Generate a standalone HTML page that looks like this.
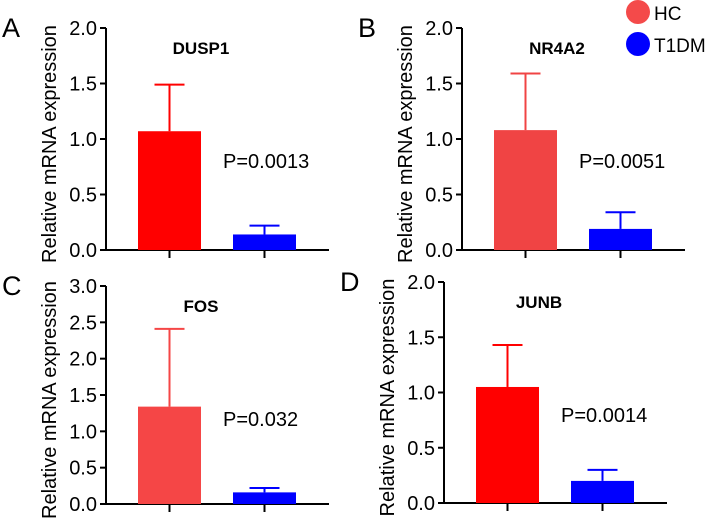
<!DOCTYPE html>
<html><head><meta charset="utf-8"><style>body{margin:0;background:#fff}svg{display:block;font-family:"Liberation Sans",Arial,sans-serif}</style></head>
<body>
<svg id="c" width="708" height="521">
<g>
<circle cx="638" cy="12" r="12" fill="#f44a4a"/>
<text x="654" y="20" font-size="19" fill="#000">HC</text>
<circle cx="638" cy="44" r="12" fill="#0000ff"/>
<text x="654" y="52" font-size="19" fill="#000">T1DM</text>
</g>
</svg>
<script>
const panelLetters=["A","B","C","D"];
const genes=["DUSP1","NR4A2","FOS","JUNB"];
const hcMean=[1.07,1.08,1.34,1.05];
const hcErr=[0.42,0.51,1.07,0.38];
const t1Mean=[0.14,0.19,0.16,0.20];
const t1Err=[0.08,0.15,0.06,0.10];
const yMax=[2,2,3,2];
const yTicks=[["0.0","0.5","1.0","1.5","2.0"],["0.0","0.5","1.0","1.5","2.0"],["0.0","0.5","1.0","1.5","2.0","2.5","3.0"],["0.0","0.5","1.0","1.5","2.0"]];
const pVals=["P=0.0013","P=0.0051","P=0.032","P=0.0014"];
const hcColors=["#ff0000","#f04444","#f54646","#ff0000"];
const layout=[{ax:106,top:28,bot:250},{ax:462,top:28,bot:250},{ax:106,top:286,bot:504},{ax:444,top:282,bot:503}];
const svg=document.getElementById('c');const NS="http://www.w3.org/2000/svg";
function mk(t,a,p){const e=document.createElementNS(NS,t);for(const k in a)e.setAttribute(k,a[k]);(p||svg).appendChild(e);return e;}
for(let i=0;i<4;i++){
 const L=layout[i];const g=mk('g',{});
 
 
 const y=v=>L.bot-(v/yMax[i])*(L.bot-L.top);
 const lt=mk('text',{x:L.ax-104,y:L.top+9,'font-size':27},g);lt.textContent=panelLetters[i];
 
 
 const cy=(L.top+L.bot)/2+5;
 const yl=mk('text',{x:L.ax-50,y:cy,'font-size':20,'text-anchor':'middle',transform:`rotate(-90 ${L.ax-50} ${cy})`},g);yl.textContent="Relative mRNA expression";
 
 
 const ya=mk('line',{x1:L.ax,y1:L.top,x2:L.ax,y2:L.bot+1,stroke:'#000','stroke-width':2},g);
 
 
 const xa=mk('line',{x1:L.ax-1,y1:L.bot,x2:L.ax+223,y2:L.bot,stroke:'#000','stroke-width':2},g);
 
 
 yTicks[i].forEach((t,k)=>{const v=k*0.5;const yy=y(v);
  mk('line',{x1:L.ax-6,y1:yy,x2:L.ax,y2:yy,stroke:'#000','stroke-width':2},g);
  const tx=mk('text',{x:L.ax-9,y:yy+7,'font-size':20,'text-anchor':'end'},g);tx.textContent=t;
  
  });
 const xs=[L.ax+32,L.ax+127];const cols=[hcColors[i],'#0000ff'];const m=[hcMean[i],t1Mean[i]];const e=[hcErr[i],t1Err[i]];
 for(let j=0;j<2;j++){const cx=xs[j]+31.5;
  mk('line',{x1:cx,y1:L.bot,x2:cx,y2:L.bot+8,stroke:'#000','stroke-width':2},g);
  mk('line',{x1:cx,y1:y(m[j]),x2:cx,y2:y(m[j]+e[j]),stroke:cols[j],'stroke-width':2},g);
  mk('line',{x1:cx-15,y1:y(m[j]+e[j]),x2:cx+15,y2:y(m[j]+e[j]),stroke:cols[j],'stroke-width':2},g);
  const b=mk('rect',{x:xs[j],y:y(m[j]),width:63,height:L.bot-y(m[j]),fill:cols[j]},g);
  
  }
 const ti=mk('text',{x:L.ax+95,y:L.top+26,'font-size':17,'font-weight':'bold','text-anchor':'middle'},g);ti.textContent=genes[i];
 
 
 const p=mk('text',{x:L.ax+117,y:L.top+140,'font-size':20},g);p.textContent=pVals[i];
 
 
}
</script>
</body></html>
